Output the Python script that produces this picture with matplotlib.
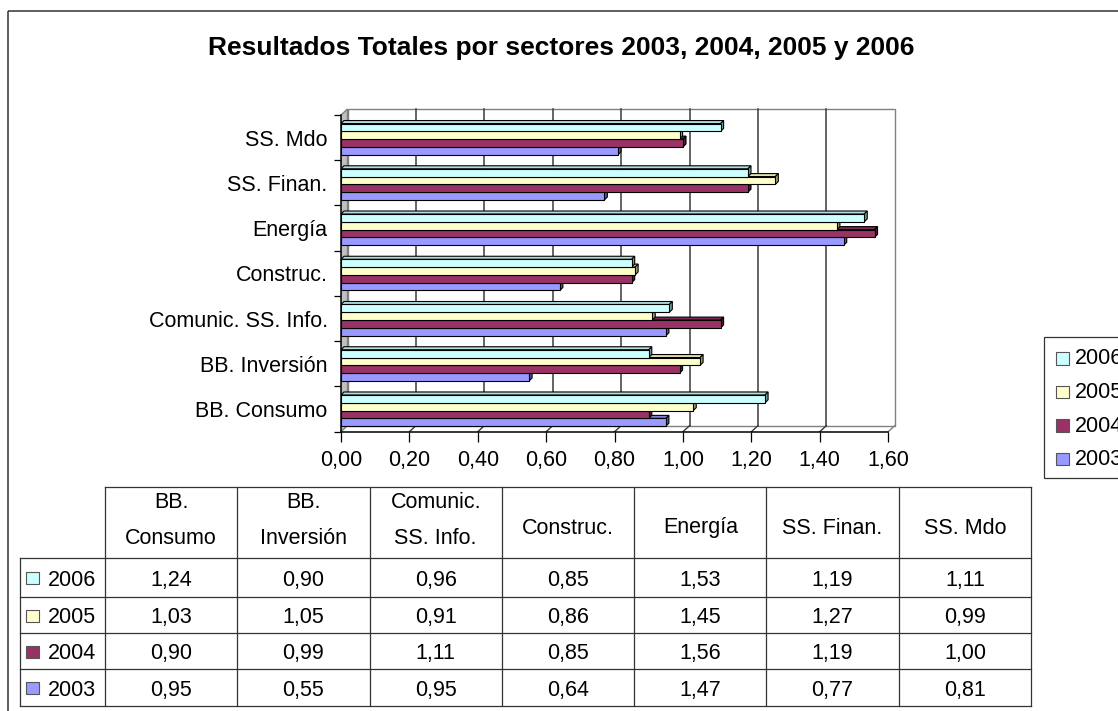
import matplotlib
matplotlib.use('Agg')
import matplotlib.pyplot as plt
from matplotlib.patches import Polygon, Rectangle
from matplotlib.lines import Line2D

plt.rcParams['font.family'] = ['Liberation Sans', 'DejaVu Sans']

# ---------------- data ----------------
title = 'Resultados Totales por sectores 2003, 2004, 2005 y 2006'
categories = ['BB. Consumo', 'BB. Inversión', 'Comunic. SS. Info.', 'Construc.',
              'Energía', 'SS. Finan.', 'SS. Mdo']
header_labels = ['BB.\nConsumo', 'BB.\nInversión', 'Comunic.\nSS. Info.', 'Construc.',
                 'Energía', 'SS. Finan.', 'SS. Mdo']
years = ['2006', '2005', '2004', '2003']
v2006 = [1.24, 0.90, 0.96, 0.85, 1.53, 1.19, 1.11]
v2005 = [1.03, 1.05, 0.91, 0.86, 1.45, 1.27, 0.99]
v2004 = [0.90, 0.99, 1.11, 0.85, 1.56, 1.19, 1.00]
v2003 = [0.95, 0.55, 0.95, 0.64, 1.47, 0.77, 0.81]
series = {'2006': v2006, '2005': v2005, '2004': v2004, '2003': v2003}
xticks = [0.0, 0.2, 0.4, 0.6, 0.8, 1.0, 1.2, 1.4, 1.6]
xtick_labels = ['0,00', '0,20', '0,40', '0,60', '0,80', '1,00', '1,20', '1,40', '1,60']

# ---------------- styles ----------------
front_col = {'2006': '#CCFFFF', '2005': '#FFFFCC', '2004': '#993366', '2003': '#9999FF'}
top_col = {'2006': '#B0E0E0', '2005': '#E0E0B0', '2004': '#7A2952', '2003': '#8080D8'}
side_col = {'2006': '#6F9F9F', '2005': '#A0A070', '2004': '#4D1A33', '2003': '#5555A0'}
FS = 15.5

W, H = 1118, 711
fig = plt.figure(figsize=(W / 100, H / 100), dpi=100)
fig.patch.set_facecolor('white')

# overlay axes in pixel coordinates for frame, title, legend and table
ov = fig.add_axes([0, 0, 1, 1], zorder=0)
ov.set_xlim(0, W)
ov.set_ylim(H, 0)
ov.axis('off')

# main plot axes
PX = 342.0     # pixels per unit value
PY = 45.24     # pixels per category
x0px, y0px = 341.0, 431.7
xmax, ymax = 1.64, 7.2
ax = fig.add_axes([x0px / W, (H - y0px) / H, xmax * PX / W, ymax * PY / H], zorder=1)
ax.set_xlim(0, xmax)
ax.set_ylim(0, ymax)
ax.patch.set_visible(False)
for s in ax.spines.values():
    s.set_visible(False)

n = len(categories)
xend = xticks[-1]
dx = 6.5 / PX
dy = 6.0 / PY

# back wall
ax.add_patch(Polygon([(dx, dy), (xend + dx, dy), (xend + dx, n + dy), (dx, n + dy)],
                     closed=True, facecolor='white', edgecolor='#808080', lw=1.0, zorder=1))
# left side wall
ax.add_patch(Polygon([(0, 0), (dx, dy), (dx, n + dy), (0, n)], closed=True,
                     facecolor='#C0C0C0', edgecolor='#808080', lw=1.0, zorder=2))
# floor edges
ax.add_line(Line2D([xend, xend + dx], [0, dy], color='#808080', lw=1.0, zorder=2))
for t in xticks[1:-1]:
    ax.add_line(Line2D([t + dx, t + dx], [dy, n + dy], color='#3A3A3A', lw=1.1, zorder=2))
    ax.add_line(Line2D([t, t + dx], [0, dy], color='#3A3A3A', lw=1.0, zorder=2))

# bars (3D-ish)
h = 7.8 / PY
bdx = 3.0 / PX
bdy = 3.0 / PY
shift = -1.5 / PY
order = ['2003', '2004', '2005', '2006']
for i in range(n):
    c = i + 0.5 + shift
    for k, yr in enumerate(order):
        v = series[yr][i]
        yb = c - 2 * h + k * h
        yt = yb + h
        z = 3 + k
        ax.add_patch(Polygon([(0, yt), (bdx, yt + bdy), (v + bdx, yt + bdy), (v, yt)],
                             closed=True, facecolor=top_col[yr], edgecolor='black', lw=0.8, zorder=z))
        ax.add_patch(Polygon([(v, yb), (v + bdx, yb + bdy), (v + bdx, yt + bdy), (v, yt)],
                             closed=True, facecolor=side_col[yr], edgecolor='black', lw=0.8, zorder=z))
        ax.barh(yb, v, height=h, align='edge', color=front_col[yr], edgecolor='black',
                linewidth=0.8, zorder=z)

# front axes lines
ax.add_line(Line2D([0, xend], [0, 0], color='black', lw=1.1, zorder=10, clip_on=False))
ax.add_line(Line2D([0, 0], [0, n], color='black', lw=1.1, zorder=10, clip_on=False))

ax.set_xticks(xticks)
ax.set_xticklabels(xtick_labels, fontsize=FS)
ax.tick_params(axis='x', direction='out', length=7.2, width=0.9, pad=6, color='black')
ax.set_yticks(range(n + 1))
ax.set_yticklabels([])
ax.tick_params(axis='y', which='major', direction='out', length=5.4, width=0.9, color='black')
ax.set_yticks([i + 0.5 for i in range(n)], minor=True)
ax.set_yticklabels(categories, minor=True, fontsize=FS)
ax.tick_params(axis='y', which='minor', length=0, pad=9.6)

# ---------------- frame & title ----------------
ov.add_patch(Rectangle((7.7, 10.7), 1300, 900, fill=False, edgecolor='#333333', lw=1.1))
ov.text(561, 48, title, fontsize=19, fontweight='bold', ha='center', va='center')

# ---------------- legend ----------------
ov.add_patch(Rectangle((1044, 337), 120, 141, facecolor='white', edgecolor='#333333', lw=0.9))
for j, yr in enumerate(years):
    yc = 358 + j * 33.5
    ov.add_patch(Rectangle((1056, yc - 6), 12.5, 12.5, facecolor=front_col[yr],
                           edgecolor='#555555', lw=0.8))
    ov.text(1075, yc + 1, yr, fontsize=FS, ha='left', va='center')

# ---------------- data table ----------------
col_x = [105 + 132.29 * k for k in range(len(categories) + 1)]
hdr_top, hdr_bot = 487.0, 558.0
row_y = [558.0, 596.7, 632.7, 669.0, 705.7]
lab_left = 20.0
lc = '#333333'
tlw = 0.9
# header
ov.add_line(Line2D([col_x[0], col_x[-1]], [hdr_top, hdr_top], color=lc, lw=tlw))
for x in col_x:
    ov.add_line(Line2D([x, x], [hdr_top, row_y[-1]], color=lc, lw=tlw))
for yv in row_y:
    ov.add_line(Line2D([lab_left, col_x[-1]], [yv, yv], color=lc, lw=tlw))
ov.add_line(Line2D([lab_left, lab_left], [row_y[0], row_y[-1]], color=lc, lw=tlw))

for k, lab in enumerate(header_labels):
    xc = (col_x[k] + col_x[k + 1]) / 2
    lines = lab.split('\n')
    if len(lines) == 2:
        ov.text(xc, 502, lines[0], fontsize=FS, ha='center', va='center')
        ov.text(xc, 539, lines[1], fontsize=FS, ha='center', va='center')
    else:
        ov.text(xc, 528, lines[0], fontsize=FS, ha='center', va='center')

for r, yr in enumerate(years):
    yc = (row_y[r] + row_y[r + 1]) / 2
    ov.add_patch(Rectangle((26, yc - 5), 13, 12, facecolor=front_col[yr],
                           edgecolor='#555555', lw=0.8))
    ov.text(48, yc + 3, yr, fontsize=FS, ha='left', va='center')
    for k, v in enumerate(series[yr]):
        xc = (col_x[k] + col_x[k + 1]) / 2
        ov.text(xc, yc + 3, f'{v:.2f}'.replace('.', ','), fontsize=FS,
                ha='center', va='center')

fig.savefig('out.png', dpi=100)
